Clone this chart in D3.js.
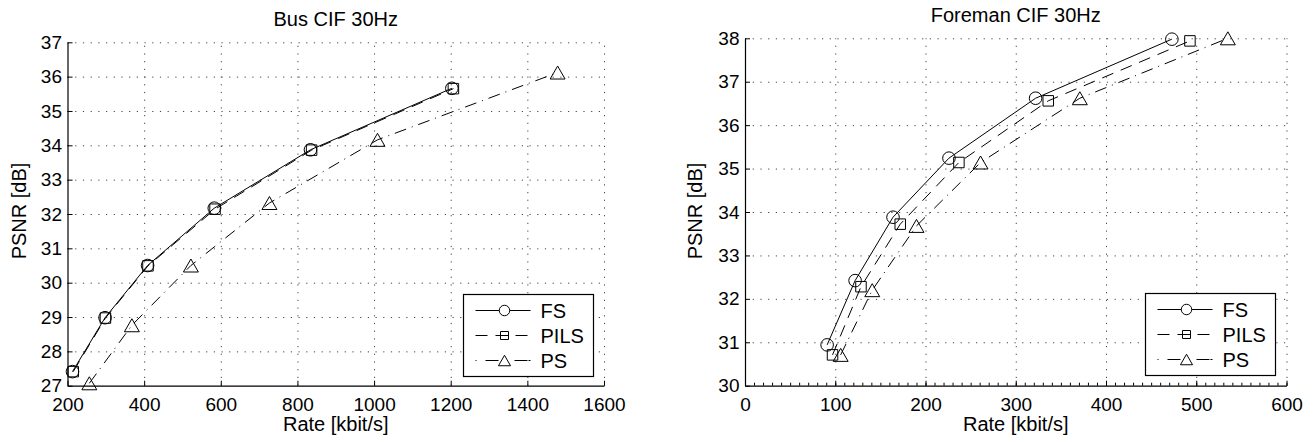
<!DOCTYPE html>
<html>
<head>
<meta charset="utf-8">
<script src="https://cdn.jsdelivr.net/npm/d3@7"></script>
<style>
  body { margin: 0; background: #fff; }
  svg text { font-family: "Liberation Sans", Arial, sans-serif; fill: #000; }
  .grat line { stroke: #444; stroke-dasharray: 1.2, 6.5; }
  .grat path { display: none; }
</style>
</head>
<body>
<svg id="chart" width="1314" height="442"></svg>
<script>
// Bus CIF 30Hz
var busFS_rate   = [213, 298, 409, 583, 834, 1203];
var busFS_psnr   = [27.41, 28.98, 30.5, 32.17, 33.87, 35.66];
var busPILS_rate = [215, 299, 410, 585, 837, 1207];
var busPILS_psnr = [27.41, 28.97, 30.49, 32.14, 33.86, 35.65];
var busPS_rate   = [257, 368, 522, 727, 1009, 1479];
var busPS_psnr   = [27.07, 28.76, 30.5, 32.32, 34.16, 36.12];

// Foreman CIF 30Hz
var foreFS_rate   = [91, 122, 164, 226, 322, 473];
var foreFS_psnr   = [30.94, 32.42, 33.88, 35.24, 36.62, 37.98];
var forePILS_rate = [97, 128.5, 172, 237, 336, 493];
var forePILS_psnr = [30.71, 32.28, 33.72, 35.14, 36.56, 37.94];
var forePS_rate   = [106, 141, 190, 261, 371, 535];
var forePS_psnr   = [30.71, 32.2, 33.68, 35.14, 36.62, 38.0];

var seriesNames = ["FS", "PILS", "PS"];
var busXTicks  = [200, 400, 600, 800, 1000, 1200, 1400, 1600];
var busYTicks  = [27, 28, 29, 30, 31, 32, 33, 34, 35, 36, 37];
var foreXTicks = [0, 100, 200, 300, 400, 500, 600];
var foreYTicks = [30, 31, 32, 33, 34, 35, 36, 37, 38];

var xLabel = "Rate [kbit/s]";
var yLabel = "PSNR [dB]";

var dashes = { FS: null, PILS: "12,8", PS: "12,6,1,6" };

function zipData(rates, psnrs){
    return rates.map(function(r, i){ return {rate: r, psnr: psnrs[i]}; });
}

function markerPath(name, s){
    // s = scale of the marker
    if (name == "FS") return d3.symbol().type(d3.symbolCircle).size(Math.PI*s*s/4)();
    if (name == "PILS") return "M" + (-s/2) + "," + (-s/2) + "h" + s + "v" + s + "h" + (-s) + "Z";
    var w = s*1.15, h = s;
    return "M0," + (-h/2) + "L" + (w/2) + "," + (h/2) + "L" + (-w/2) + "," + (h/2) + "Z";
}
var markerSize = { FS: 12.6, PILS: 10.5, PS: 13 };
var legendSize = { FS: 10.5, PILS: 8, PS: 10.5 };

function drawPanel(cfg){
    var svg = d3.select("#chart");
    var g = svg.append("g");

    var xScale = d3.scaleLinear().domain(cfg.xDomain).range([cfg.left, cfg.right]);
    var yScale = d3.scaleLinear().domain(cfg.yDomain).range([cfg.bottom, cfg.top]);
    var w = cfg.right - cfg.left, h = cfg.bottom - cfg.top;

    // grid
    g.append("g").classed("grat", true)
        .attr("transform", "translate(0," + cfg.bottom + ")")
        .call(d3.axisBottom(xScale).tickValues(cfg.xTicks.slice(1)).tickSize(-h).tickFormat(""));
    g.append("g").classed("grat", true)
        .attr("transform", "translate(" + cfg.left + ",0)")
        .call(d3.axisLeft(yScale).tickValues(cfg.yTicks.slice(1)).tickSize(-w).tickFormat(""));

    // minor ticks on x
    if (cfg.xMinor) {
        g.append("g")
            .attr("transform", "translate(0," + cfg.bottom + ")")
            .call(d3.axisBottom(xScale).tickValues(d3.range(cfg.xDomain[0], cfg.xDomain[1] + 1, cfg.xMinor))
                .tickSize(-3).tickFormat(""))
            .call(function(a){ a.select(".domain").remove(); a.selectAll("line").attr("stroke", "#000"); });
    }

    // axes
    var xAxis = g.append("g")
        .attr("transform", "translate(0," + cfg.bottom + ")")
        .call(d3.axisBottom(xScale).tickValues(cfg.xTicks).tickFormat(d3.format("d"))
            .tickSize(-5).tickSizeOuter(0).tickPadding(11.5));
    var yAxis = g.append("g")
        .attr("transform", "translate(" + cfg.left + ",0)")
        .call(d3.axisLeft(yScale).tickValues(cfg.yTicks).tickFormat(d3.format("d"))
            .tickSize(-5).tickSizeOuter(0).tickPadding(5.5));
    [xAxis, yAxis].forEach(function(a){
        a.attr("font-family", null).attr("font-size", null);
        a.selectAll("text").style("font-size", "19px");
        a.select(".domain").attr("stroke", "#000").attr("stroke-width", 1.2);
    });

    // title and labels
    g.append("text")
        .attr("x", (cfg.left + cfg.right)/2).attr("y", cfg.top - 16)
        .attr("text-anchor", "middle").style("font-size", "20px")
        .text(cfg.title);
    g.append("text")
        .attr("x", (cfg.left + cfg.right)/2).attr("y", 431)
        .attr("text-anchor", "middle").style("font-size", "20px")
        .text(xLabel);
    g.append("text")
        .attr("transform", "translate(" + cfg.yLabelX + ",211) rotate(-90)")
        .attr("text-anchor", "middle").style("font-size", "20px")
        .text(yLabel);

    var line = d3.line()
        .x(function(d){ return xScale(d.rate); })
        .y(function(d){ return yScale(d.psnr); });

    cfg.series.forEach(function(s){
        g.append("path")
            .attr("class", "line")
            .attr("d", line(s.data))
            .attr("fill", "none")
            .attr("stroke", "#000")
            .attr("stroke-width", 1)
            .attr("stroke-dasharray", dashes[s.name]);
        g.selectAll(".mk-" + s.name)
            .data(s.data)
            .enter().append("path")
            .attr("class", "mk-" + s.name)
            .attr("transform", function(d){ return "translate(" + xScale(d.rate) + "," + yScale(d.psnr) + ")"; })
            .attr("d", markerPath(s.name, markerSize[s.name]))
            .attr("fill", "none")
            .attr("stroke", "#000")
            .attr("stroke-width", 1);
    });

    // legend
    var lg = g.append("g").attr("transform", "translate(" + cfg.legend[0] + "," + cfg.legend[1] + ")");
    lg.append("rect").attr("width", 130).attr("height", 82)
        .attr("fill", "#fff").attr("stroke", "#000").attr("stroke-width", 1.2);
    seriesNames.forEach(function(name, i){
        var yy = 16 + i*25;
        lg.append("line").attr("x1", 12).attr("x2", 67).attr("y1", yy).attr("y2", yy)
            .attr("stroke", "#000").attr("stroke-width", 1)
            .attr("stroke-dasharray", name == "PS" ? "1,9,13,16,13" : dashes[name]);
        lg.append("path").attr("transform", "translate(41," + yy + ")")
            .attr("d", markerPath(name, legendSize[name]))
            .attr("fill", name == "FS" ? "#fff" : "none").attr("stroke", "#000");
        if (name == "PILS")
            lg.append("line").attr("x1", 37).attr("x2", 45).attr("y1", yy).attr("y2", yy).attr("stroke", "#000");
        lg.append("text").attr("x", 77).attr("y", yy).attr("dy", "0.36em")
            .style("font-size", "20px").text(name);
    });
}

drawPanel({
    title: "Bus CIF 30Hz",
    left: 67.5, right: 604, top: 42.3, bottom: 385.7,
    xDomain: [200, 1600], yDomain: [27, 37],
    xTicks: busXTicks, yTicks: busYTicks,
    yLabelX: 26, legend: [463.5, 294.5],
    series: [
        {name: "FS", data: zipData(busFS_rate, busFS_psnr)},
        {name: "PILS", data: zipData(busPILS_rate, busPILS_psnr)},
        {name: "PS", data: zipData(busPS_rate, busPS_psnr)}
    ]
});

drawPanel({
    title: "Foreman CIF 30Hz",
    left: 745, right: 1286.5, top: 38.3, bottom: 385.7,
    xDomain: [0, 600], yDomain: [30, 38],
    xTicks: foreXTicks, yTicks: foreYTicks, xMinor: 10,
    yLabelX: 702, legend: [1145.5, 293.5],
    series: [
        {name: "FS", data: zipData(foreFS_rate, foreFS_psnr)},
        {name: "PILS", data: zipData(forePILS_rate, forePILS_psnr)},
        {name: "PS", data: zipData(forePS_rate, forePS_psnr)}
    ]
});
</script>
</body>
</html>
